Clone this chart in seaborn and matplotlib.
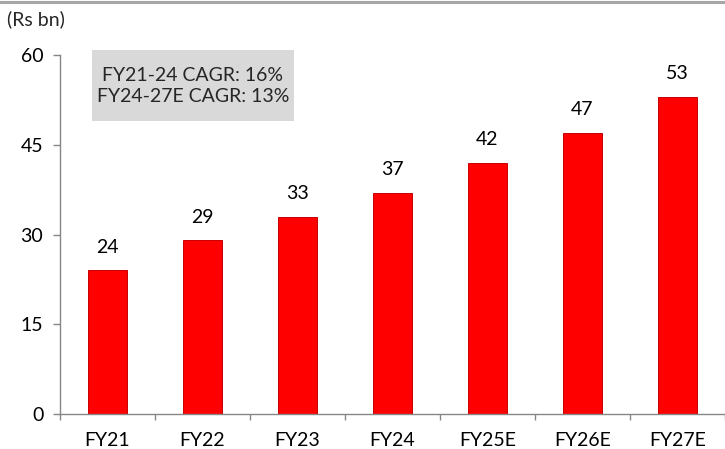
import matplotlib
matplotlib.use("Agg")
import matplotlib.pyplot as plt
import numpy as np
import pandas as pd
import seaborn as sns
from matplotlib.lines import Line2D
from matplotlib.patches import Rectangle

# Revenue by fiscal year (Rs bn)
years = ["FY21", "FY22", "FY23", "FY24", "FY25E", "FY26E", "FY27E"]
revenue = [24, 29, 33, 37, 42, 47, 53]
y_ticks = [0, 15, 30, 45, 60]
cagr_lines = ["FY21-24 CAGR: 16%", "FY24-27E CAGR: 13%"]

sns.set_theme(style="white")
plt.rcParams["font.family"] = ["Lato", "DejaVu Sans"]
FS = 14

df = pd.DataFrame({"year": years, "revenue": revenue})

fig = plt.figure(figsize=(7.25, 4.49), dpi=100)
ax = fig.add_axes([60 / 725, 1 - 414 / 449, 665 / 725, 359 / 449])

sns.barplot(data=df, x="year", y="revenue", color="#ff0000", width=0.41,
            saturation=1, edgecolor="#c80000", linewidth=0.7, ax=ax)

for bar, v in zip(ax.patches, revenue):
    ax.annotate(f"{v}", (bar.get_x() + bar.get_width() / 2, v),
                xytext=(0, 16.5), textcoords="offset points",
                ha="center", va="center", fontsize=FS, color="#000000")

ax.set_ylim(0, 60)
ax.set_xlim(-0.5, len(years) - 0.5)
ax.set_yticks(y_ticks)
ax.set_xlabel("")
ax.set_ylabel("")

axis_grey = "#868686"
for side in ["top", "right"]:
    ax.spines[side].set_visible(False)
for side in ["left", "bottom"]:
    ax.spines[side].set_color(axis_grey)
    ax.spines[side].set_linewidth(1.0)

ax.tick_params(axis="y", direction="out", length=5, width=1.0, color=axis_grey,
               labelsize=FS, labelcolor="#000000", pad=7, left=True)
ax.tick_params(axis="x", which="major", length=0, labelsize=FS,
               labelcolor="#000000", pad=13)
ax.set_xticks(np.arange(-0.5, len(years), 1.0), minor=True)
ax.tick_params(axis="x", which="minor", direction="out", length=4, width=1.0,
               color=axis_grey, bottom=True)

fig.text(7 / 725, 1 - 19 / 449, "(Rs bn)", fontsize=FS, ha="left", va="center")

# CAGR note in a grey box
fig.add_artist(Rectangle((92 / 725, 1 - 121 / 449), 202 / 725, 71 / 449,
                         transform=fig.transFigure, facecolor="#d9d9d9",
                         edgecolor="none", zorder=3))
fig.text(193 / 725, 1 - 86 / 449, "\n".join(cagr_lines), fontsize=FS,
         ha="center", va="center", linespacing=1.3, zorder=4)

# thin grey rule across the top of the figure
fig.add_artist(Line2D([0, 1], [1 - 1.5 / 449, 1 - 1.5 / 449], transform=fig.transFigure,
                      color="#a6a6a6", linewidth=2.2))

fig.savefig("out.png", dpi=100)
